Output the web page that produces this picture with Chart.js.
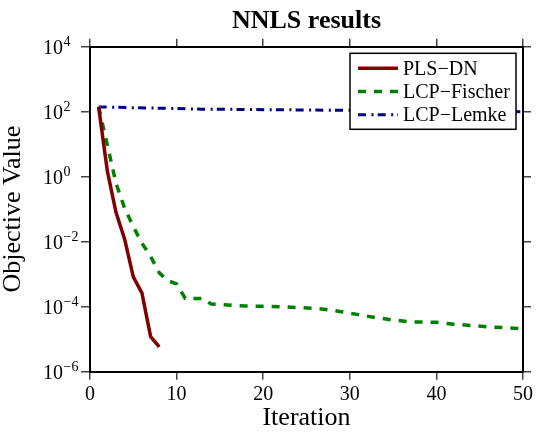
<!DOCTYPE html>
<html><head><meta charset="utf-8">
<script src="https://cdn.jsdelivr.net/npm/chart.js@4.4.1/dist/chart.umd.min.js"></script>
<style>html,body{margin:0;padding:0;background:#fff;}</style>
</head><body>
<canvas id="c" width="540" height="434" style="display:block;width:540px;height:434px"></canvas>
<script>
const chartTitle = 'NNLS results';
const xTitle = 'Iteration';
const yTitle = 'Objective Value';
const seriesNames = ['PLS\u2212DN', 'LCP\u2212Fischer', 'LCP\u2212Lemke'];
const plsIter = [1, 2, 3, 4, 5, 6, 7, 8];
const plsValues = [140, 1.5, 0.08, 0.012, 8.3e-4, 2.6e-4, 1.2e-5, 5.8e-6];
const fischerIter = [1, 2, 3, 4, 5, 6, 7, 8, 9, 10, 11, 13, 14, 18, 22, 26, 28, 29, 31, 33, 35, 37, 40, 42, 46, 50];
const fischerValues = [140, 9.5, 0.63, 0.107, 0.029, 0.009, 0.0035, 0.0011, 6.3e-4, 5.0e-4, 1.8e-4, 1.8e-4, 1.2e-4, 1.05e-4, 1.0e-4, 8.9e-5, 7.8e-5, 7.0e-5, 5.7e-5, 4.6e-5, 3.9e-5, 3.4e-5, 3.3e-5, 2.9e-5, 2.4e-5, 2.1e-5];
const lemkeIter = [1, 13, 30, 50];
const lemkeValues = [140, 120, 110, 100];
const xTicks = [0, 10, 20, 30, 40, 50];
const yTickExponents = [-6, -4, -2, 0, 2, 4];

const FONT = '"Liberation Serif", "Times New Roman", serif';
const pts = (xs, ys) => xs.map((x, i) => ({x: x, y: ys[i]}));
const decadeTicks = s => { s.ticks = yTickExponents.map(e => ({value: Math.pow(10, e)})); };
const fixedX = s => { s.ticks = xTicks.map(v => ({value: v})); };

const supLabels = {
  id: 'supLabels',
  afterDraw(chart) {
    const ys = chart.scales.y, ctx = chart.ctx;
    ctx.save();
    ctx.fillStyle = '#000';
    yTickExponents.forEach(e => {
      const py = ys.getPixelForValue(Math.pow(10, e));
      const xr = ys.right - 27;
      ctx.font = '20px ' + FONT;
      ctx.textAlign = 'right'; ctx.textBaseline = 'alphabetic';
      ctx.fillText('10', xr, py + 7.3);
      ctx.font = '14px ' + FONT;
      ctx.textAlign = 'left';
      ctx.fillText(String(e).replace('-', '\u2212'), xr + 0.5, py - 0.5);
    });
    ctx.restore();
  }
};

const boxLegend = {
  id: 'boxLegend',
  afterDatasetsDraw(chart) {
    const ctx = chart.ctx, ca = chart.chartArea;
    const w = 166, h = 76;
    const left = ca.right - 7 - w, top = ca.top + 6.6;
    ctx.save();
    ctx.fillStyle = '#fff';
    ctx.fillRect(left, top, w, h);
    ctx.strokeStyle = '#000'; ctx.lineWidth = 1.5;
    ctx.strokeRect(left, top, w, h);
    chart.data.datasets.forEach((ds, i) => {
      const cy = top + 15 + i * 23.2;
      ctx.beginPath();
      ctx.setLineDash(ds.borderDash || []);
      ctx.strokeStyle = ds.borderColor; ctx.lineWidth = ds.borderWidth;
      ctx.moveTo(left + 8, cy); ctx.lineTo(left + 48, cy);
      ctx.stroke();
      ctx.setLineDash([]);
      ctx.fillStyle = '#000';
      ctx.font = '20px ' + FONT;
      ctx.textAlign = 'left'; ctx.textBaseline = 'alphabetic';
      ctx.fillText(ds.label, left + 53, cy + 6.7);
    });
    ctx.restore();
  }
};

const tickGrid = len => ({drawOnChartArea: false, drawTicks: true, tickLength: len, color: '#444', lineWidth: 1.5});
const border = {display: true, color: '#000', width: 2};

new Chart(document.getElementById('c'), {
  type: 'line',
  data: {
    datasets: [
      {label: seriesNames[0], data: pts(plsIter, plsValues), borderColor: '#800000', borderWidth: 3.5, pointRadius: 0, fill: false, tension: 0},
      {label: seriesNames[1], data: pts(fischerIter, fischerValues), borderColor: '#008000', borderWidth: 3.5, borderDash: [8, 8], pointRadius: 0, fill: false, tension: 0},
      {label: seriesNames[2], data: pts(lemkeIter, lemkeValues), borderColor: '#000080', borderWidth: 3, borderDash: [8, 5.5, 2, 4.2], pointRadius: 0, fill: false, tension: 0}
    ]
  },
  options: {
    responsive: false, animation: false, devicePixelRatio: 1,
    layout: {padding: 0},
    plugins: {
      legend: {display: false},
      tooltip: {enabled: false},
      title: {display: true, text: chartTitle, fullSize: false, color: '#000',
        font: {family: FONT, size: 26, weight: 'bold', lineHeight: 1}, padding: {top: 8, bottom: 0}}
    },
    scales: {
      x: {type: 'linear', position: 'bottom', min: 0, max: 50, afterBuildTicks: fixedX,
        afterFit: s => { s.height = 62.3; },
        grid: tickGrid(8), border: border,
        ticks: {color: '#000', padding: 3, maxRotation: 0, font: {family: FONT, size: 20}},
        title: {display: true, text: xTitle, color: '#000', font: {family: FONT, size: 26, lineHeight: 1}, padding: {top: 0, bottom: 3}}},
      x2: {type: 'linear', position: 'top', min: 0, max: 50, afterBuildTicks: fixedX,
        afterFit: s => { s.height = 12.7; },
        grid: tickGrid(8), border: border, ticks: {display: false}},
      y: {type: 'logarithmic', position: 'left', min: 1e-6, max: 1e4, afterBuildTicks: decadeTicks,
        afterFit: s => { s.width = 90; },
        grid: tickGrid(9), border: border, ticks: {display: false},
        title: {display: true, text: yTitle, color: '#000', font: {family: FONT, size: 26, lineHeight: 1}, padding: {top: 0, bottom: 0}}},
      y2: {type: 'logarithmic', position: 'right', min: 1e-6, max: 1e4, afterBuildTicks: decadeTicks,
        afterFit: s => { s.width = 17; },
        grid: tickGrid(8), border: border, ticks: {display: false}}
    }
  },
  plugins: [boxLegend, supLabels]
});
</script>
</body></html>
